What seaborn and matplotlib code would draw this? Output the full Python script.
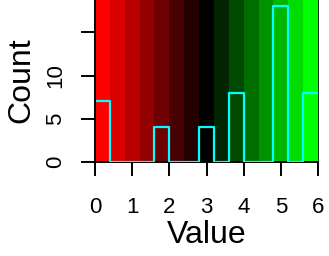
import numpy as np
import matplotlib
matplotlib.use("Agg")
import matplotlib.pyplot as plt
import seaborn as sns
from matplotlib.colors import LinearSegmentedColormap

# data
bin_edges = [0.0, 0.4, 0.8, 1.2, 1.6, 2.0, 2.4, 2.8, 3.2, 3.6, 4.0, 4.4, 4.8, 5.2, 5.6, 6.0]
counts = [7, 0, 0, 0, 4, 0, 0, 4, 0, 8, 0, 0, 18, 0, 8]
x_ticks = [0, 1, 2, 3, 4, 5, 6]
y_ticks = [0, 5, 10, 15]
y_ticklabels = ["0", "5", "10", ""]

sns.set_style("white")
plt.rcParams["font.family"] = ["Liberation Sans", "DejaVu Sans"]
plt.rcParams["text.color"] = "black"
plt.rcParams["axes.labelcolor"] = "black"

fig = plt.figure(figsize=(3.29, 2.56), dpi=100)
ax = fig.add_axes([95 / 329, 1 - 162 / 256, (318 - 95) / 329, 162 / 256])

# background color bands
cmap = LinearSegmentedColormap.from_list("rbg", ["#FF0000", "#000000", "#00FF00"])
nb = len(bin_edges) - 1
for i in range(nb):
    ax.axvspan(bin_edges[i], bin_edges[i + 1], color=cmap(i / (nb - 1)), lw=0, zorder=0)

centers = [(bin_edges[i] + bin_edges[i + 1]) / 2 for i in range(nb)]
sns.histplot(x=centers, weights=counts, bins=bin_edges, element="step", fill=False,
             color="#00FFFF", linewidth=1.6, ax=ax, zorder=6)

ax.set_xlim(0, 6)
ax.set_ylim(0, 162 / 8.647)
ax.set_xticks(x_ticks)
ax.set_yticks(y_ticks)
ax.set_yticklabels(y_ticklabels)
ax.set_xlabel("Value", fontsize=23, color="black")
ax.set_ylabel("Count", fontsize=23, color="black")
ax.xaxis.set_label_coords(0.5, -0.358)
ax.yaxis.set_label_coords(-0.263, 0.506)

ax.tick_params(axis="both", which="both", direction="out", length=10, width=1.4,
               labelsize=16, color="black", labelcolor="black", bottom=True, left=True)
ax.tick_params(axis="x", pad=15)
ax.tick_params(axis="y", pad=11, labelrotation=90)
for lbl in ax.get_yticklabels():
    lbl.set_va("center")

ax.spines["top"].set_visible(False)
ax.spines["left"].set_linewidth(1.4)
ax.spines["bottom"].set_linewidth(1.4)
ax.spines["right"].set_linewidth(0.6)
for s in ax.spines.values():
    s.set_color("black")
ax.spines["bottom"].set_zorder(5)
ax.spines["left"].set_zorder(7)
ax.spines["right"].set_zorder(7)

fig.savefig("out.png", dpi=100)
